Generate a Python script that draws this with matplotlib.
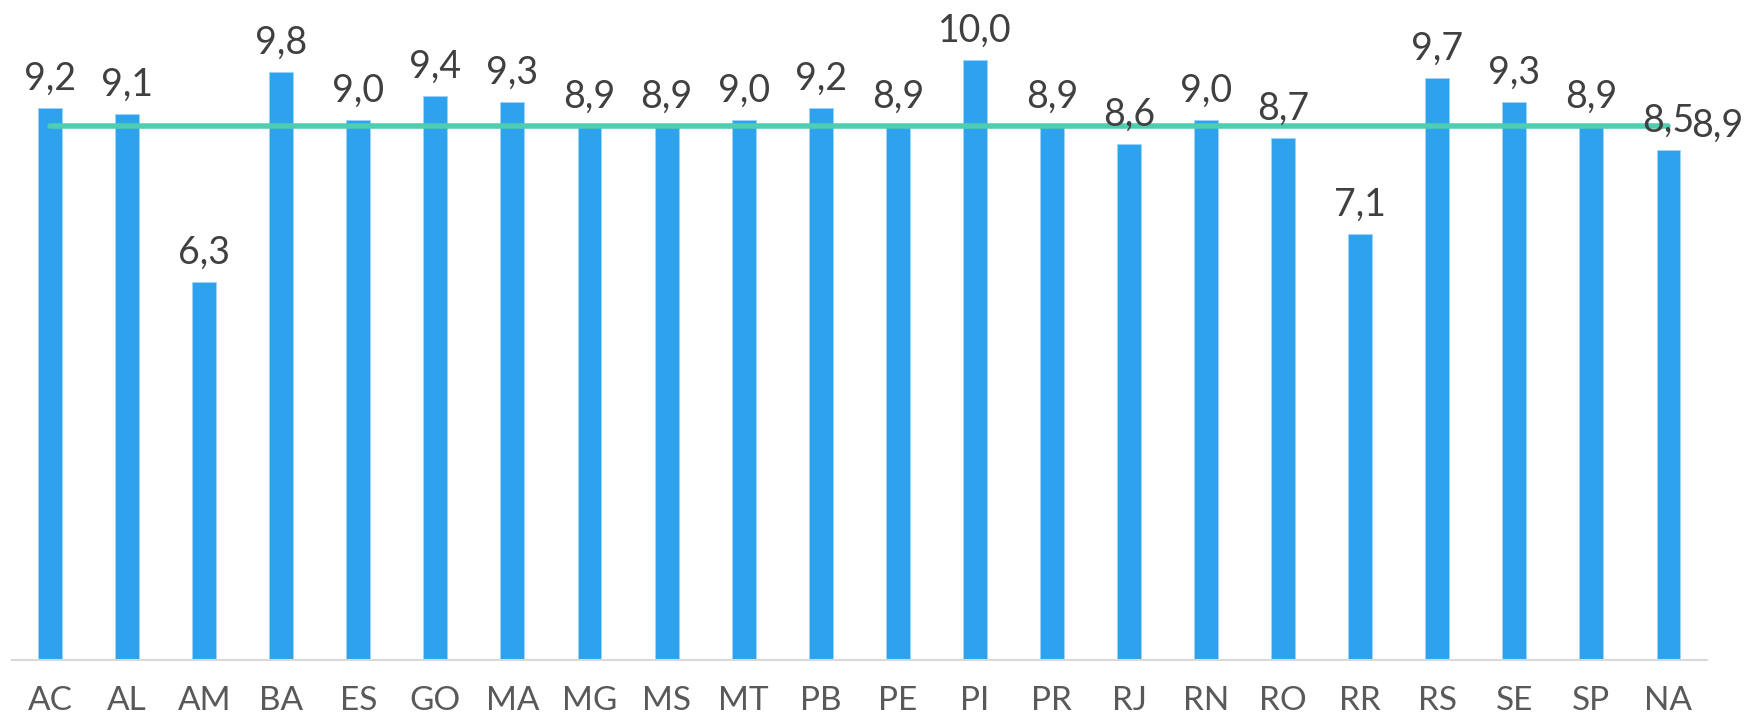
import matplotlib
import matplotlib.pyplot as plt
import numpy as np
matplotlib.use('Agg')

plt.rcParams['font.family'] = ['Lato', 'DejaVu Sans']

estados = ['AC', 'AL', 'AM', 'BA', 'ES', 'GO', 'MA', 'MG', 'MS', 'MT', 'PB',
           'PE', 'PI', 'PR', 'RJ', 'RN', 'RO', 'RR', 'RS', 'SE', 'SP', 'NA']
notas = [9.2, 9.1, 6.3, 9.8, 9.0, 9.4, 9.3, 8.9, 8.9, 9.0, 9.2,
         8.9, 10.0, 8.9, 8.6, 9.0, 8.7, 7.1, 9.7, 9.3, 8.9, 8.5]
media = [8.9] * len(estados)

BAR_COLOR = '#2ea2ec'
LINE_COLOR = '#4ecdb0'
TEXT_COLOR = '#404040'


def fmt(v):
    """Decimal comma, one place"""
    return ('%.1f' % v).replace('.', ',')


def plot():
    fig = plt.figure(figsize=(17.47, 7.18), dpi=100)
    ax = fig.add_axes([11.5 / 1747, 58 / 718, 1695.5 / 1747, 660 / 718])

    x = np.arange(len(estados))
    ax.bar(x, notas, width=0.31, color=BAR_COLOR, edgecolor='#9fd2f6',
           linewidth=0.6, zorder=2)
    ax.plot(x, media, color=LINE_COLOR, linewidth=4, solid_capstyle='round',
            zorder=3)

    for xi, v in zip(x, notas):
        ax.annotate(fmt(v), (xi, v), xytext=(0, 13.5), textcoords='offset points',
                    ha='center', va='baseline', fontsize=27, color=TEXT_COLOR,
                    zorder=4)
    ax.annotate(fmt(media[-1]), (x[-1], media[-1]), xytext=(16, 0),
                textcoords='offset points', ha='left', va='center',
                fontsize=27, color=TEXT_COLOR, annotation_clip=False, zorder=4)

    ax.set_xlim(-0.5, len(estados) - 0.5)
    ax.set_ylim(0, 11)
    ax.set_xticks(x)
    ax.set_xticklabels(estados, fontsize=24, color='#595959')
    ax.tick_params(axis='x', length=0, pad=19)
    ax.set_yticks([])
    for side in ['top', 'right', 'left']:
        ax.spines[side].set_visible(False)
    ax.spines['bottom'].set_color('#d9d9d9')
    ax.spines['bottom'].set_linewidth(1.5)

    fig.savefig('out.png', dpi=100)


plot()
